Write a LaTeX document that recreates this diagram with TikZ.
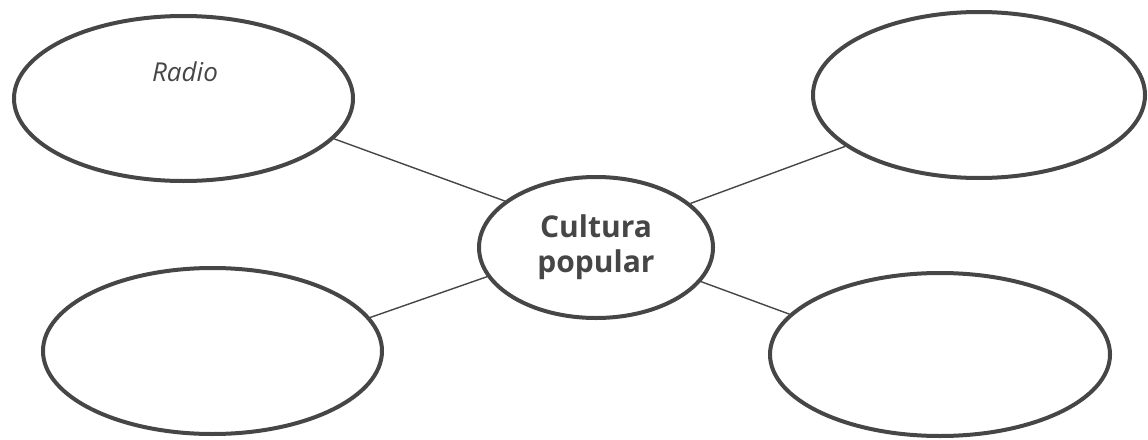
\documentclass[tikz,border=0pt]{standalone}
\usepackage{fontspec}
\setmainfont{Open Sans}
\usetikzlibrary{shapes.geometric}
\definecolor{ink}{HTML}{464646}
\begin{document}
\begin{tikzpicture}[x=1pt,y=-1pt,
  blob/.style={ellipse,draw=ink,line width=4pt,inner sep=0pt},
  spoke/.style={draw=ink,line width=1.4pt}]
\useasboundingbox (0,0) rectangle (1148,439);
\node[blob,minimum width=234,minimum height=141,align=center,text=ink,
  font=\fontsize{30}{35}\selectfont\bfseries] (cp) at (596,247.5) {Cultura\\popular};
\node[blob,minimum width=339,minimum height=165] (radio) at (183.5,98.5) {};
\node[blob,minimum width=339,minimum height=166] (bl) at (212.5,351) {};
\node[blob,minimum width=332,minimum height=166] (tr) at (979,95) {};
\node[blob,minimum width=340,minimum height=163] (br) at (940,354.5) {};
\node[text=ink,font=\fontsize{26}{30}\selectfont\itshape] (radiotext) at (185,72) {Radio};
\draw[spoke] (radio.345.8) -- (cp.153.2);
\draw[spoke] (tr.201.4) -- (cp.25.4);
\draw[spoke] (bl.12) -- (cp.195.1);
\draw[spoke] (br.165.1) -- (cp.342.7);
\end{tikzpicture}
\end{document}
